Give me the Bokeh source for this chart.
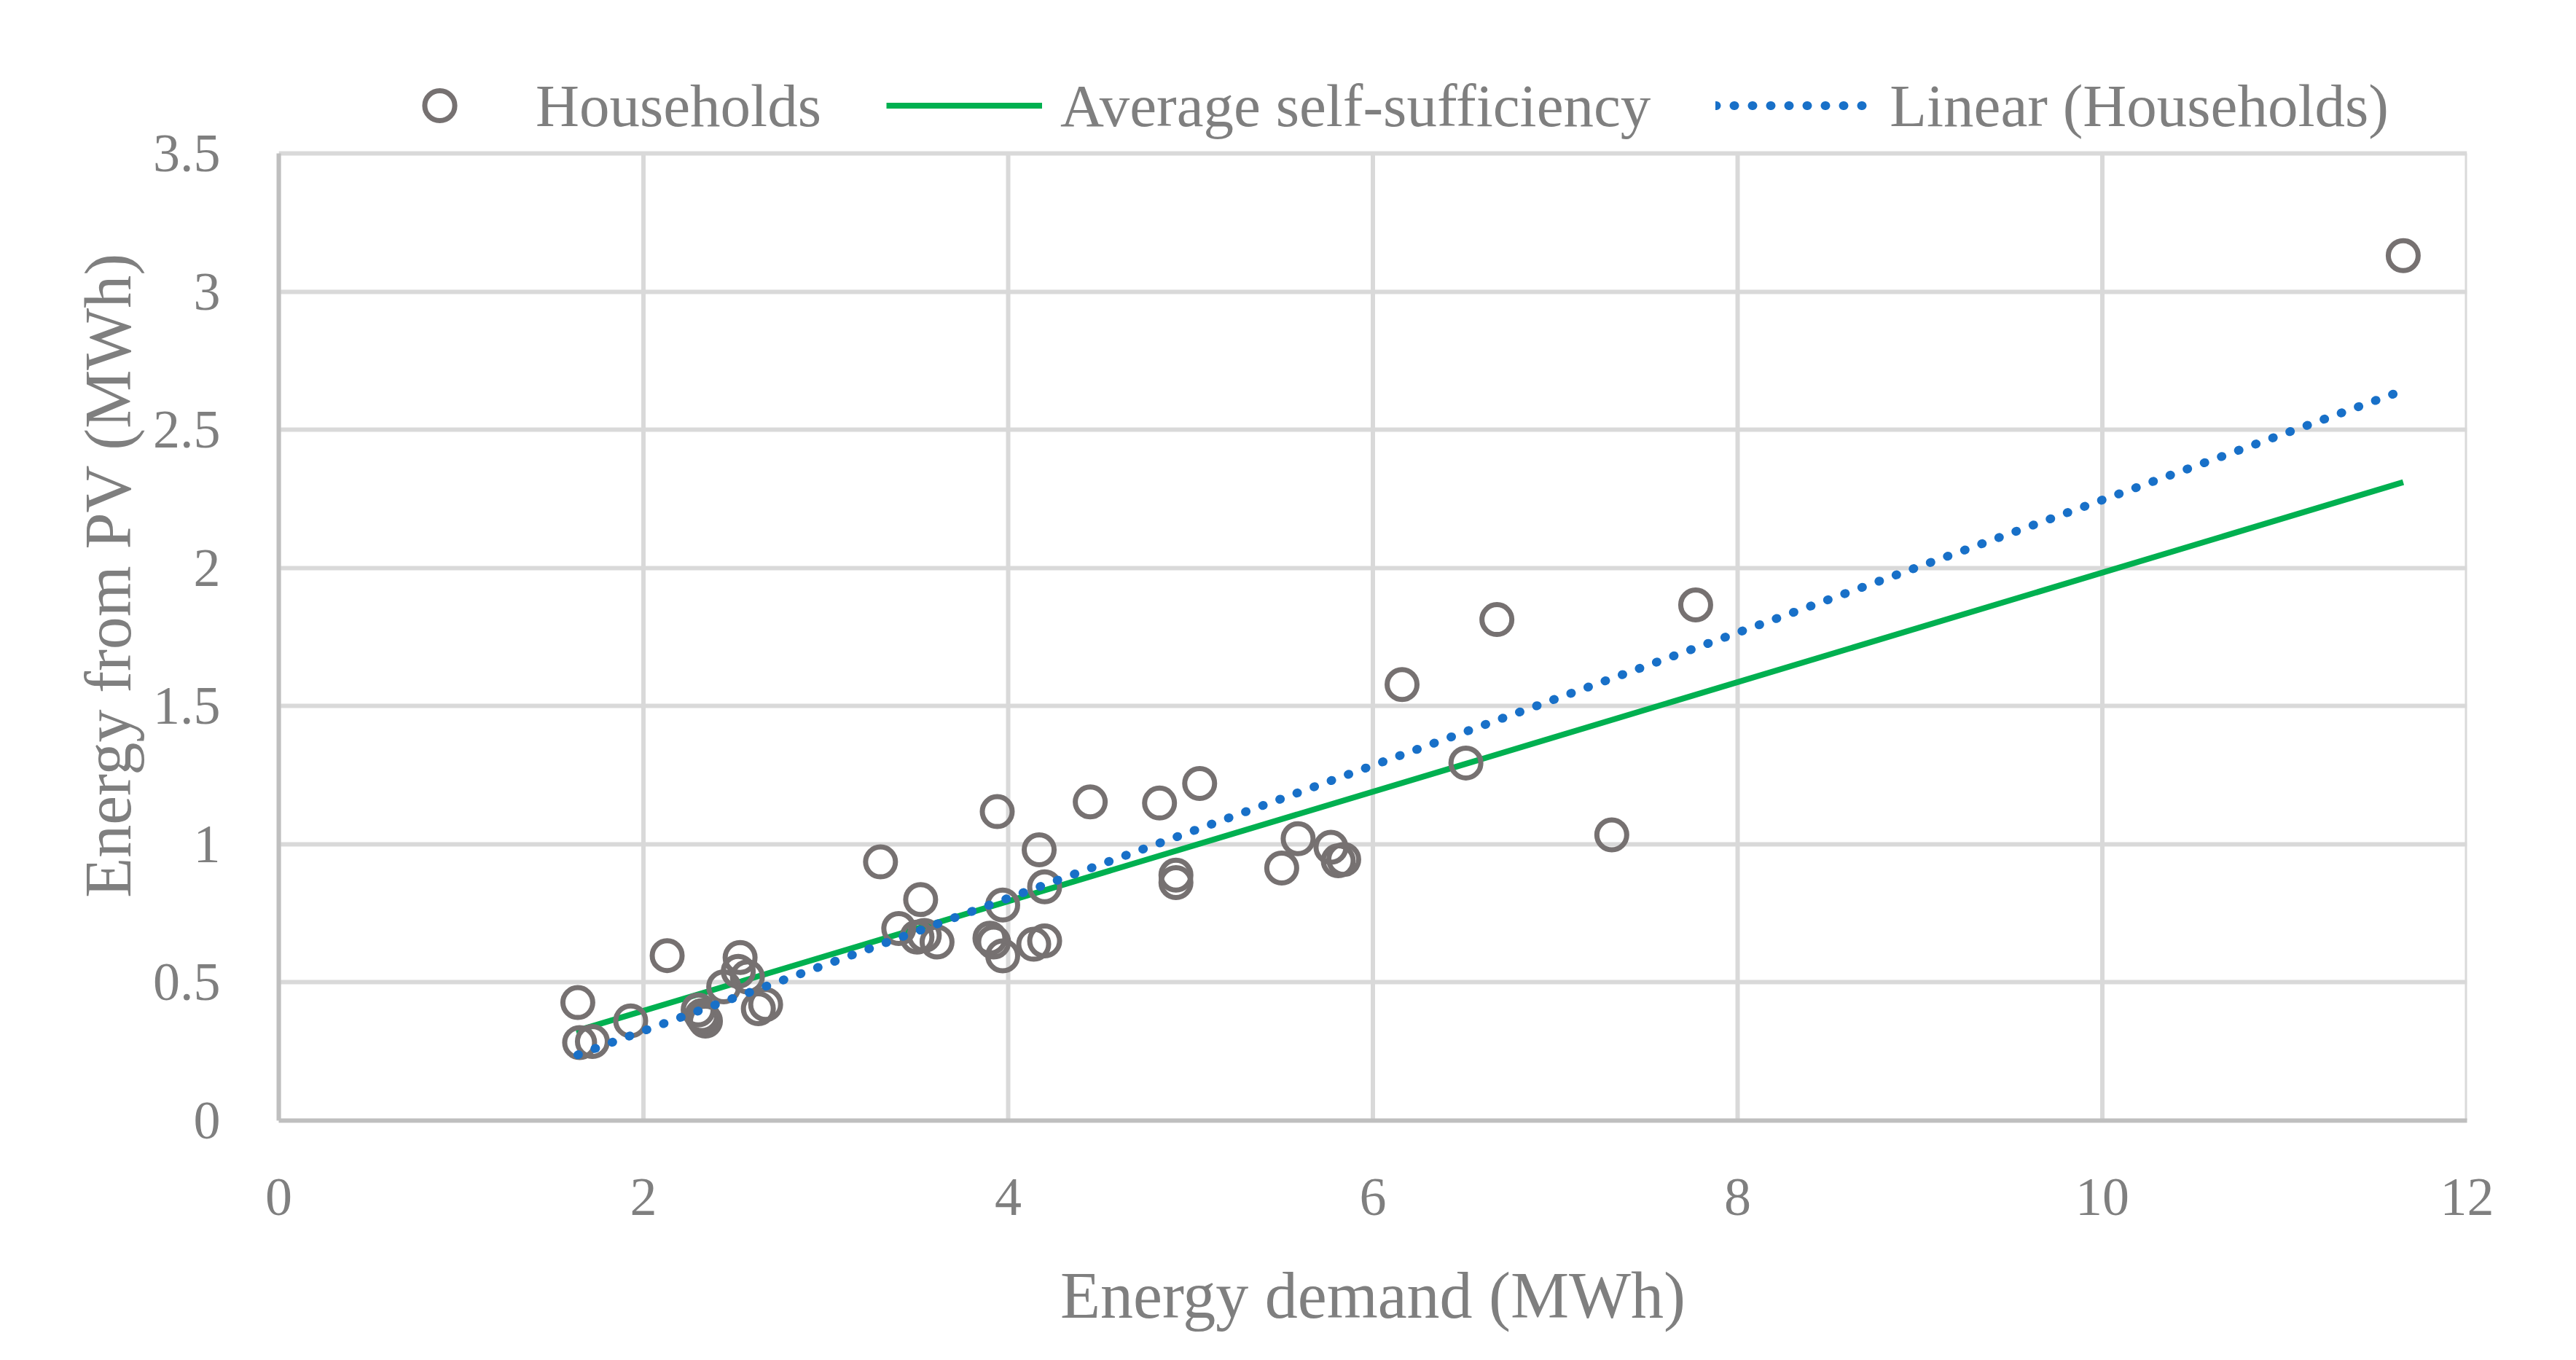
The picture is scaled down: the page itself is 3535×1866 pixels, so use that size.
from bokeh.plotting import figure
from bokeh.models import Range1d, Legend, LegendItem, FixedTicker, NumeralTickFormatter, Title
from bokeh.embed import file_html
from bokeh.resources import INLINE

# Households: energy demand (MWh) vs energy from PV (MWh)
demand = [1.64, 1.65, 1.72, 1.93, 2.13, 2.30, 2.32, 2.33, 2.34, 2.44, 2.53, 2.52, 2.57,
          2.63, 2.67, 3.30, 3.40, 3.52, 3.50, 3.54, 3.61, 3.94, 3.97, 3.90, 3.92, 3.97,
          4.17, 4.20, 4.14, 4.20, 4.45, 4.83, 5.05, 4.92, 4.92, 5.50, 5.59, 5.77, 5.81,
          5.84, 6.16, 6.51, 6.68, 7.31, 7.77, 11.65]
pv = [0.427, 0.282, 0.286, 0.361, 0.597, 0.40, 0.38, 0.37, 0.36, 0.484, 0.59, 0.54, 0.52,
      0.405, 0.42, 0.936, 0.695, 0.80, 0.664, 0.67, 0.646, 1.118, 0.78, 0.66, 0.646, 0.596,
      0.98, 0.846, 0.638, 0.65, 1.153, 1.149, 1.22, 0.888, 0.861, 0.914, 1.02, 0.989, 0.94,
      0.945, 1.578, 1.294, 1.813, 1.034, 1.866, 3.13]

# Average self-sufficiency line
avg_x = [1.63, 11.65]
avg_y = [0.324, 2.31]

# Linear trend (Households)
trend_x = [1.64, 11.64]
trend_y = [0.238, 2.640]

x_ticks = [0, 2, 4, 6, 8, 10, 12]
y_ticks = [0, 0.5, 1, 1.5, 2, 2.5, 3, 3.5]
series_labels = ["Households", "Average self-sufficiency", "Linear (Households)"]

FONT = "Liberation Serif"
TXT = "#7F7F7F"
GRAY = "#767171"
GREEN = "#00B050"
BLUE = "#1870C8"
GRID = "#D9D9D9"

W, H = 3519, 1850
B_TOP, B_BOT = 40, 313
FRAME_H = H - B_TOP - B_BOT
PLOT_H = 1327                       # pixel height of the 0..3.5 data area
Y_MAX = y_ticks[-1] * FRAME_H / PLOT_H   # extra room above 3.5 holds the legend

p = figure(width=W, height=H, output_backend="svg", toolbar_location=None,
           x_range=Range1d(x_ticks[0], x_ticks[-1]), y_range=Range1d(0, Y_MAX),
           min_border_left=382, min_border_right=134, min_border_top=B_TOP,
           min_border_bottom=B_BOT)
p.outline_line_color = None
p.background_fill_color = "white"
p.border_fill_color = "white"

# grid: horizontal lines via Grid, vertical lines limited to 0..3.5
p.xgrid.visible = False
p.ygrid[0].ticker = FixedTicker(ticks=y_ticks)
p.ygrid[0].grid_line_color = GRID
p.ygrid[0].grid_line_width = 6
p.segment(x0=x_ticks, y0=[y_ticks[0]] * len(x_ticks), x1=x_ticks,
          y1=[y_ticks[-1]] * len(x_ticks), line_color=GRID, line_width=6)

g_avg = p.line(avg_x, avg_y, line_color=GREEN, line_width=8)
g_hh = p.scatter(demand, pv, marker="circle", size=41, fill_color=None,
                 line_color=GRAY, line_width=7)
g_tr = p.line(trend_x, trend_y, line_color=BLUE, line_width=12,
              line_dash="1 24", line_cap="round")

for ax in (p.xaxis[0], p.yaxis[0]):
    ax.axis_line_color = "#BFBFBF"
    ax.axis_line_width = 6
    ax.major_tick_line_color = None
    ax.minor_tick_line_color = None
    ax.major_tick_out = 0
    ax.major_tick_in = 0
    ax.major_label_text_font = FONT
    ax.major_label_text_font_size = "74px"
    ax.major_label_text_color = TXT
    ax.axis_label_text_font = FONT
    ax.axis_label_text_font_size = "90px"
    ax.axis_label_text_font_style = "normal"
    ax.axis_label_text_color = TXT

p.xaxis[0].ticker = FixedTicker(ticks=x_ticks)
p.yaxis[0].ticker = FixedTicker(ticks=y_ticks)
p.yaxis[0].bounds = (y_ticks[0], y_ticks[-1])
p.yaxis[0].formatter = NumeralTickFormatter(format="0.[0]")
p.xaxis[0].axis_label = "Energy demand (MWh)"
p.xaxis[0].major_label_standoff = 80
p.yaxis[0].major_label_standoff = 80
p.xaxis[0].axis_label_standoff = 58

# y title centred on the 0..3.5 area (shifted down from the full frame centre)
y_title = Title(text="Energy from PV (MWh)", align="center",
                offset=-(FRAME_H - PLOT_H) / 2, standoff=18,
                text_font=FONT, text_font_size="90px", text_font_style="normal",
                text_color=TXT)
p.add_layout(y_title, "left")

legend = Legend(items=[LegendItem(label=series_labels[0], renderers=[g_hh]),
                       LegendItem(label=series_labels[1], renderers=[g_avg]),
                       LegendItem(label=series_labels[2], renderers=[g_tr])],
                orientation="horizontal", location=(114, FRAME_H - 138 - 51 - 7 + B_TOP))
legend.glyph_width = 214
legend.glyph_height = 103
legend.label_height = 103
legend.label_standoff = 25
legend.spacing = 89
legend.padding = 0
legend.margin = 0
legend.border_line_color = None
legend.background_fill_alpha = 0
legend.label_text_font = FONT
legend.label_text_font_size = "83px"
legend.label_text_color = TXT
p.add_layout(legend, "center")

open("out.html", "w").write(file_html(p, INLINE))
